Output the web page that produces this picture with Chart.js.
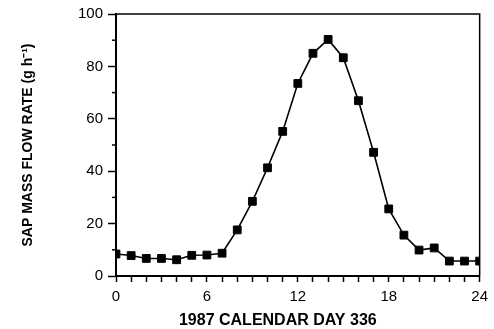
<!DOCTYPE html>
<html lang="en">
<head>
<meta charset="UTF-8">
<title>Sap mass flow rate</title>
<script src="https://cdn.jsdelivr.net/npm/chart.js"></script>
<style>
  html, body { margin: 0; padding: 0; background: #fff; }
  .wrap { position: relative; width: 494px; height: 329px; }
</style>
</head>
<body>
<div class="wrap"><canvas id="flowChart"></canvas></div>
<script>
// hour of day 336 and sap flow (g/h)
const hours = [0, 1, 2, 3, 4, 5, 6, 7, 8, 9, 10, 11, 12, 13, 14, 15, 16, 17, 18, 19, 20, 21, 22, 23, 24];
const sapFlow = [8.4, 7.8, 6.7, 6.7, 6.2, 7.9, 8.0, 8.7, 17.6, 28.5, 41.3, 55.2, 73.5, 85.0, 90.3, 83.3, 66.9, 47.2, 25.6, 15.6, 9.9, 10.7, 5.7, 5.7, 5.7];
const xLabels = [0, 6, 12, 18, 24];
const yMinorTicks = [10, 30, 50, 70, 90];
const xTitle = '1987 CALENDAR DAY 336';

const points = hours.map((h, i) => ({ x: h, y: sapFlow[i] }));

// box round the plot, minor y ticks, and the x title (sits a bit left of centre)
const frame = {
  id: 'frame',
  afterDraw(chart) {
    const { ctx, chartArea: a, scales } = chart;
    ctx.save();
    ctx.strokeStyle = '#000';
    ctx.lineWidth = 1.5;
    ctx.strokeRect(a.left, a.top, a.right - a.left, a.bottom - a.top);
    yMinorTicks.forEach(v => {
      const py = scales.y.getPixelForValue(v);
      ctx.beginPath();
      ctx.moveTo(a.left - 4, py);
      ctx.lineTo(a.left, py);
      ctx.stroke();
    });
    ctx.fillStyle = '#000';
    ctx.font = 'bold 16px "Liberation Sans"';
    ctx.textAlign = 'center';
    ctx.textBaseline = 'middle';
    ctx.fillText(xTitle, (a.left + a.right) / 2 - 20, chart.height - 8);
    ctx.restore();
  }
};

new Chart(document.getElementById('flowChart'), {
  type: 'line',
  data: {
    datasets: [{
      data: points,
      borderColor: '#000',
      borderWidth: 1.6,
      backgroundColor: '#000',
      pointStyle: 'rect',
      pointRadius: 5.5,
      pointBorderWidth: 1,
      pointBorderColor: '#000',
      tension: 0
    }]
  },
  options: {
    responsive: true,
    maintainAspectRatio: false,
    animation: false,
    layout: { padding: { top: 14, right: 9, left: 0, bottom: 0 } },
    plugins: { legend: { display: false }, tooltip: { enabled: false } },
    scales: {
      x: {
        type: 'linear',
        min: 0,
        max: 24,
        afterFit(scale) { scale.height = 53; },
        border: { display: true, color: '#000', width: 2 },
        grid: { drawOnChartArea: false, color: '#000', tickLength: 6, tickWidth: 1.5 },
        ticks: {
          stepSize: 1,
          autoSkip: false,
          maxRotation: 0,
          padding: 6,
          color: '#000',
          font: { family: 'Liberation Sans', size: 15 },
          callback: v => xLabels.includes(v) ? String(v) : ''
        },
        title: { display: false }
      },
      y: {
        min: 0,
        max: 100,
        afterFit(scale) { scale.width = 116; },
        border: { display: true, color: '#000', width: 2 },
        grid: { drawOnChartArea: false, color: '#000', tickLength: 8, tickWidth: 1.5 },
        ticks: {
          stepSize: 20,
          padding: 5,
          color: '#000',
          font: { family: 'Liberation Sans', size: 15 }
        },
        title: {
          display: true,
          text: 'SAP MASS FLOW RATE (g h\u207B\u00B9)',
          color: '#000',
          padding: { top: 20, bottom: 0 },
          font: { family: 'Liberation Sans', size: 14, weight: 'bold' }
        }
      }
    }
  },
  plugins: [frame]
});
</script>
</body>
</html>
